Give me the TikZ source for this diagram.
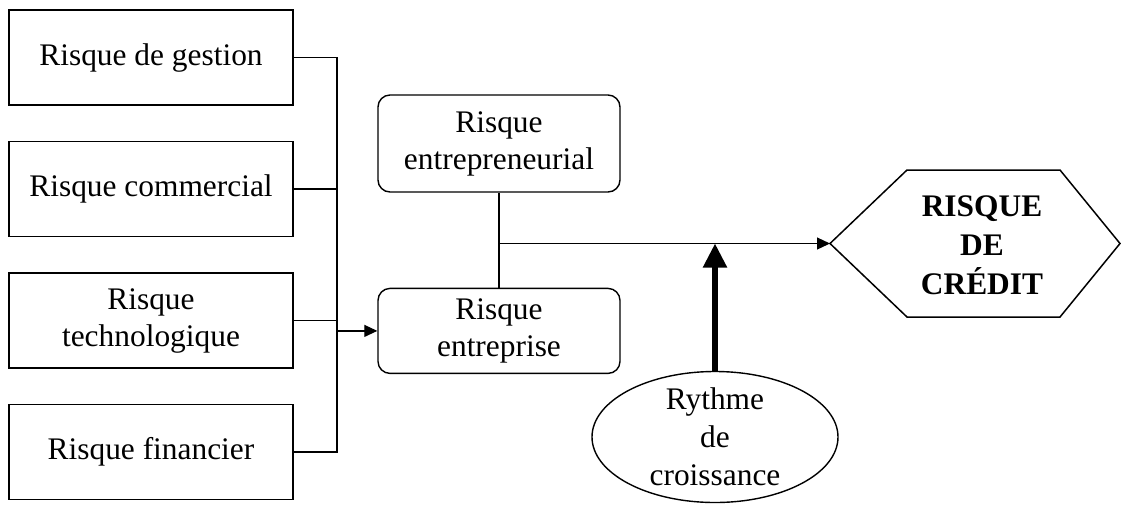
\documentclass[tikz,border=0pt]{standalone}
\usepackage{fontspec}
\setmainfont{Liberation Serif}
\usetikzlibrary{shapes.geometric, arrows.meta, positioning, calc}

\begin{document}
\begin{tikzpicture}[
        x=0.5pt, y=-0.5pt,
        node distance=17.5pt,
        font=\fontsize{15.7}{18.5}\selectfont,
        box/.style={rectangle, draw, line width=0.75pt, minimum width=142pt, minimum height=47.5pt, align=center},
        rbox/.style={rectangle, draw, rounded corners=6pt, line width=0.7pt, minimum width=121pt, align=center},
        link/.style={line width=0.6pt},
        arrow/.style={-{Triangle[length=6.5pt,width=6pt]}, line width=0.6pt},
        bigarrow/.style={-{Triangle[length=12pt,width=11.5pt]}, line width=2.6pt}
    ]
    \useasboundingbox (0,0) rectangle (1125,505);

    \node (gestion) [box] at (151,57.5) {Risque de gestion};
    \node (commercial) [box, below=of gestion] {Risque commercial};
    \node (technologique) [box, below=of commercial] {Risque\\technologique};
    \node (financier) [box, below=of technologique] {Risque financier};

    \node (entrepreneurial) [rbox, minimum height=48.5pt] at (499,143.5) {Risque\\entrepreneurial};
    \node (entreprise) [rbox, minimum height=42.5pt, below=47.5pt of entrepreneurial] {Risque\\entreprise};

    \node (rythme) [ellipse, draw, line width=0.7pt, minimum width=123pt, minimum height=65.5pt, inner xsep=0pt, inner ysep=-5pt, align=center, font=\fontsize{15.7}{19}\selectfont] at (715,437) {Rythme\\de\\croissance};

    \node (credit) [font=\fontsize{15.7}{19.5}\selectfont\bfseries, align=center] at (982,245) {RISQUE\\DE\\CRÉDIT};
    \draw[line width=0.75pt] (830,243.5) coordinate (credit-w) -- (907,170) -- (1060,170) -- (1120,243.5) -- (1060,317) -- (907,317) -- cycle;

    \coordinate (bus) at (337,0);
    \draw[link] (gestion.east) -| (bus |- financier.east) -- (financier.east);
    \draw[link] (commercial.east) -- (commercial.east -| bus);
    \draw[link] (technologique.east) -- (technologique.east -| bus);
    \draw[arrow] (entreprise.west -| bus) -- (entreprise.west);

    \draw[link] (entrepreneurial) -- (entreprise);
    \coordinate (jonction) at (entrepreneurial.south |- credit-w);
    \draw[arrow] (jonction) -- (credit-w);
    \draw[bigarrow] (rythme.north) -- (rythme.north |- credit-w);

\end{tikzpicture}
\end{document}
